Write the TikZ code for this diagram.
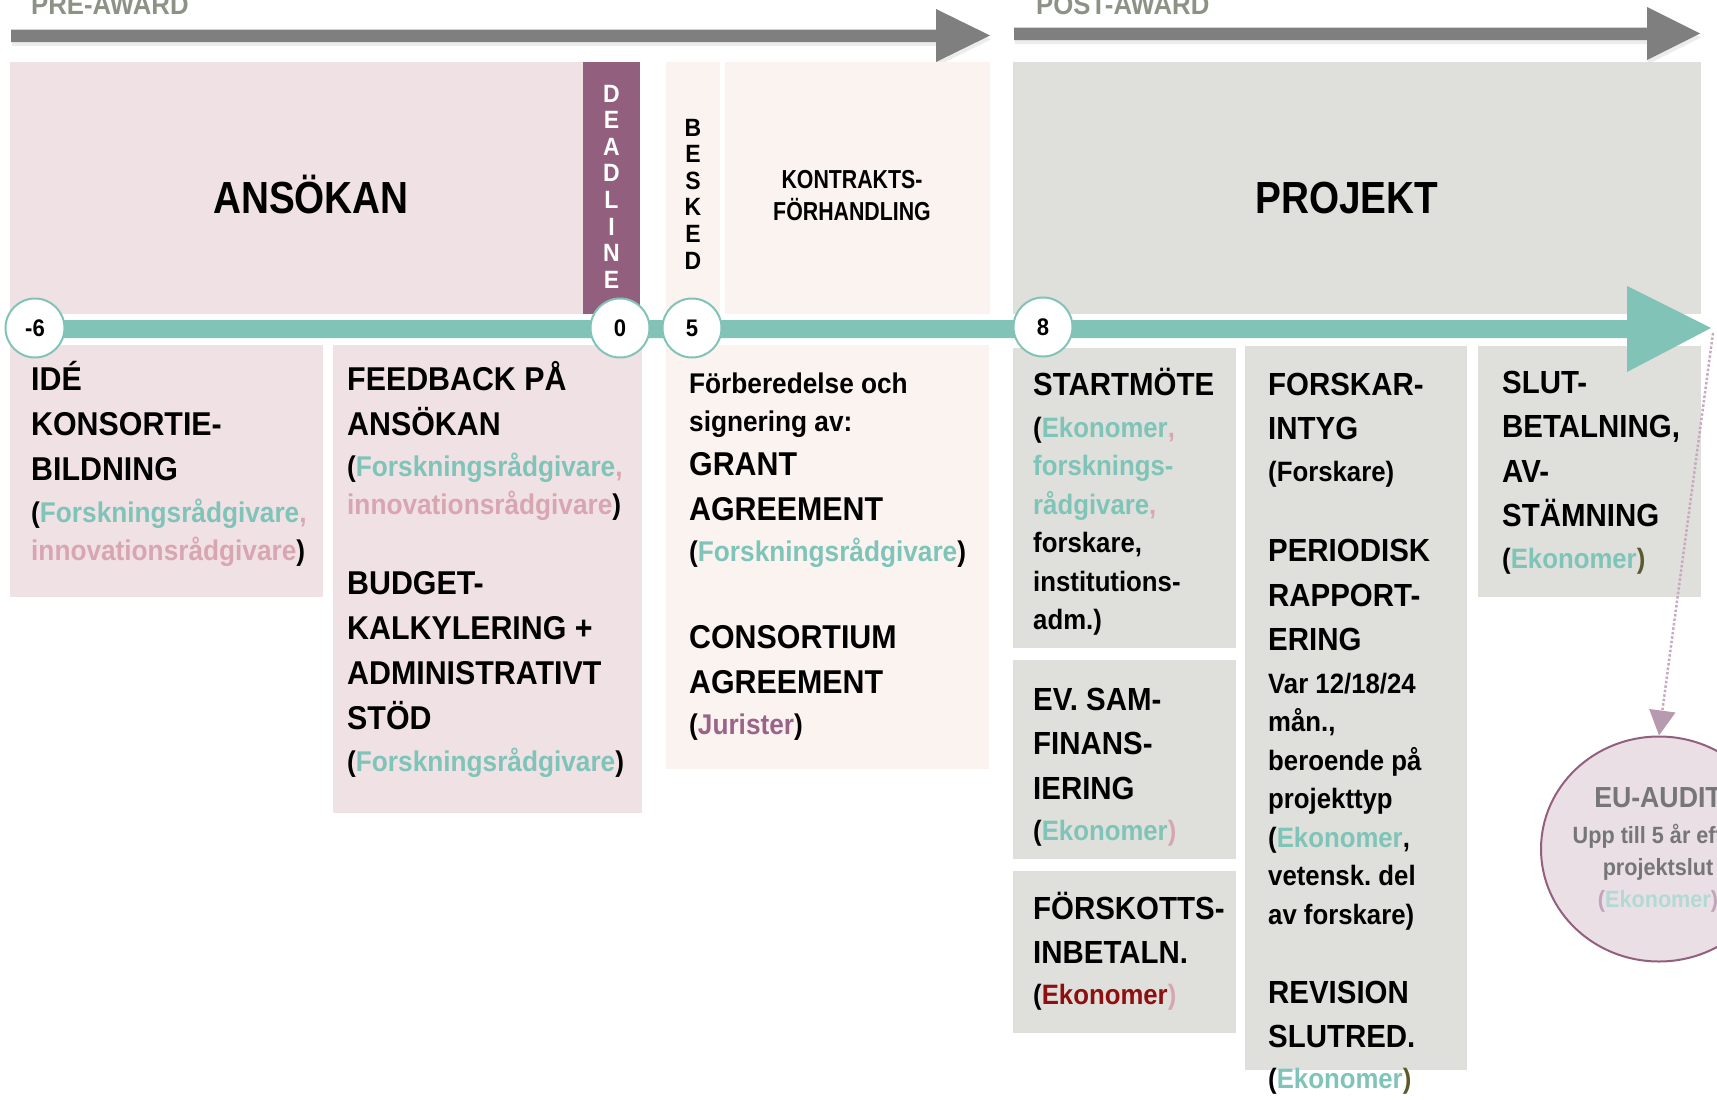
\documentclass[tikz,border=0pt]{standalone}
\usepackage{fontspec}
\setmainfont{Liberation Sans}[FakeStretch=0.92]
\newfontfamily\condA{Liberation Sans}[FakeStretch=0.86]
\newfontfamily\condB{Liberation Sans}[FakeStretch=0.82]
\usetikzlibrary{arrows.meta,shapes.geometric,shadows}

% palette
\definecolor{pinkbox}{HTML}{F0E1E5}
\definecolor{mauve}{HTML}{935F7E}
\definecolor{peach}{HTML}{FBF3F0}
\definecolor{greybox}{HTML}{DFDFDB}
\definecolor{tealbar}{HTML}{82C3B8}
\definecolor{tealtxt}{HTML}{7FC4B8}
\definecolor{rosetxt}{HTML}{D8A6B1}
\definecolor{jurtxt}{HTML}{9A6488}
\definecolor{redtxt}{HTML}{8E0F0F}
\definecolor{olivetxt}{HTML}{5A5A2E}
\definecolor{arrowgrey}{HTML}{7F7F7F}
\definecolor{phasetxt}{HTML}{8C9285}
\definecolor{auditfill}{HTML}{E9DFE5}
\definecolor{audittxt}{HTML}{767676}
\definecolor{auditteal}{HTML}{B2DAD4}
\definecolor{auditpar}{HTML}{C3A3BA}
\definecolor{dotline}{HTML}{C9A9C0}
\definecolor{dothead}{HTML}{B89AB0}

% text helpers
\newcommand\tealt[1]{\textcolor{tealtxt}{#1}}
\newcommand\roset[1]{\textcolor{rosetxt}{#1}}
\newcommand\jurt[1]{\textcolor{jurtxt}{#1}}
\newcommand\redt[1]{\textcolor{redtxt}{#1}}
\newcommand\olivet[1]{\textcolor{olivetxt}{#1}}
% fixed word spacing of the narrowed face
\newcommand\wordgap{\spaceskip=.255em\relax\xspaceskip=\spaceskip}
\newcommand\capsL{\fontsize{33}{45}\selectfont\wordgap}
\newcommand\noteL{\fontsize{28.5}{38.5}\selectfont\wordgap}
\newcommand\capsR{\fontsize{32}{44.5}\selectfont\wordgap}
\newcommand\noteR{\fontsize{28}{38.5}\selectfont\wordgap}

\tikzset{
  bodytext/.style={anchor=base west, inner sep=0pt, text width=400pt, align=left, font=\bfseries},
  tick/.style={circle, draw=tealbar, line width=2pt, fill=white, minimum size=59pt,
    inner sep=0pt, font=\bfseries\fontsize{24}{24}\selectfont},
  phase/.style={anchor=base west, inner sep=0pt, text=phasetxt, font=\bfseries\fontsize{28}{28}\selectfont},
  title/.style={anchor=base, inner sep=0pt, font=\condA\bfseries\fontsize{45}{45}\selectfont},
  stack/.style={anchor=base, inner sep=0pt, text width=40pt, align=center,
    font=\bfseries\fontsize{25}{26.6}\selectfont},
  greyarrow/.style={fill=arrowgrey, drop shadow={shadow xshift=1pt, shadow yshift=-4pt, opacity=0.15}},
  dottedlink/.style={draw=dotline, line width=2.5pt, dash pattern=on 2.5pt off 2pt,
    -{Triangle[width=26pt,length=25pt,color=dothead,fill=dothead]}},
}

\begin{document}
\begin{tikzpicture}[x=1pt,y=-1pt]
\useasboundingbox (0,0) rectangle (1717,1100);

% phase arrows
\node[phase] (pre) at (31,15) {PRE-AWARD};
\node[phase] (post) at (1036,14) {POST-AWARD};
\fill[greyarrow] (11,29.5) -- (936,29.5) -- (936,9) -- (990,35.5) -- (936,62) -- (936,42) -- (11,42) -- cycle;
\fill[greyarrow] (1014,27.5) -- (1647,27.5) -- (1647,7) -- (1700,33.5) -- (1647,60) -- (1647,40) -- (1014,40) -- cycle;

% upper blocks
\fill[pinkbox] (10,62) rectangle (583,314);
\fill[mauve] (583,62) rectangle (640,314);
\fill[peach] (666,62) rectangle (720,314);
\fill[peach] (725,62) rectangle (990,314);
\fill[greybox] (1013,62) rectangle (1701,314);

\node[title] (ansokan) at (311,213) {ANSÖKAN};
\node[title] (projekt) at (1347,213) {PROJEKT};
\node[anchor=base, inner sep=0pt, text width=260pt, align=center,
  font=\condB\bfseries\fontsize{26}{32}\selectfont] (kontrakt) at (852,188) {KONTRAKTS-\\FÖRHANDLING};
\node[stack, text=white] (deadline) at (611.5,102) {D\\E\\A\\D\\L\\I\\N\\E};
\node[stack] (besked) at (693,136) {B\\E\\S\\K\\E\\D};

% lower blocks
\fill[pinkbox] (10,345) rectangle (323,597);
\fill[pinkbox] (333,345) rectangle (642,813);
\fill[peach] (666,345) rectangle (989,769);
\fill[greybox] (1013,348) rectangle (1236,648);
\fill[greybox] (1013,660) rectangle (1236,859);
\fill[greybox] (1013,871) rectangle (1236,1033);
\fill[greybox] (1245,346) rectangle (1467,1070);
\fill[greybox] (1478,346) rectangle (1701,597);

% timeline
\fill[tealbar] (34,320) -- (1627,320) -- (1627,286) -- (1711,328) -- (1627,372) -- (1627,338) -- (34,338) -- cycle;
\coordinate (ttip) at (1713,333);
\node[tick] (m6) at (35,328) {-6};
\node[tick] (m0) at (620,328) {0};
\node[tick] (m5) at (692,328) {5};
\node[tick] (m8) at (1043,327) {8};

% phase texts
\node[bodytext] (ide) at (31,390) {%
  {\capsL IDÉ\\KONSORTIE-\\BILDNING\par}\vspace{3.5pt}%
  {\noteL (\tealt{Forskningsrådgivare}\roset{,}\\\roset{innovationsrådgivare})\par}};

\node[bodytext] (feedback) at (347,390) {%
  {\capsL FEEDBACK PÅ\\ANSÖKAN\par}\vspace{2.5pt}%
  {\noteL (\tealt{Forskningsrådgivare}\roset{,}\\\roset{innovationsrådgivare})\par}\vspace{35pt}%
  {\capsL BUDGET-\\KALKYLERING +\\ADMINISTRATIVT\\STÖD\par}\vspace{3.5pt}%
  {\noteL (\tealt{Forskningsrådgivare})\par}};

\node[bodytext] (avtal) at (689,393) {%
  {\noteL Förberedelse och\\signering av:\par}\vspace{-1.5pt}%
  {\capsL GRANT\\AGREEMENT\par}\vspace{2.5pt}%
  {\noteL (\tealt{Forskningsrådgivare})\par}\vspace{42.5pt}%
  {\capsL CONSORTIUM\\AGREEMENT\par}\vspace{2.5pt}%
  {\noteL (\jurt{Jurister})\par}};

\node[bodytext] (start) at (1033,395) {%
  {\capsR STARTMÖTE\par}\vspace{3.5pt}%
  {\noteR (\tealt{Ekonomer}\roset{,}\\\tealt{forsknings-}\\\tealt{rådgivare}\roset{,}\\forskare,\\institutions-\\adm.)\par}};

\node[bodytext] (samfin) at (1033,710) {%
  {\capsR EV. SAM-\\FINANS-\\IERING\par}\vspace{2.5pt}%
  {\noteR (\tealt{Ekonomer}\roset{)}\par}};

\node[bodytext] (forskott) at (1033,919) {%
  {\capsR FÖRSKOTTS-\\INBETALN.\par}\vspace{2pt}%
  {\noteR (\redt{Ekonomer}\roset{)}\par}};

\node[bodytext] (forskar) at (1268,395) {%
  {\capsR FORSKAR-\\INTYG\par}\vspace{3pt}%
  {\noteR (Forskare)\par}\vspace{36pt}%
  {\capsR PERIODISK\\RAPPORT-\\ERING\par}\vspace{4pt}%
  {\noteR Var 12/18/24\\mån.,\\beroende på\\projekttyp\\(\tealt{Ekonomer},\\vetensk. del\\av forskare)\par}\vspace{34.5pt}%
  {\capsR REVISION\\SLUTRED.\par}\vspace{2.5pt}%
  {\noteR (\tealt{Ekonomer}\olivet{)}\par}};

\node[bodytext] (slut) at (1502,393) {%
  {\capsR SLUT-\\BETALNING,\\AV-\\STÄMNING\par}\vspace{3pt}%
  {\noteR (\tealt{Ekonomer}\olivet{)}\par}};

% audit after project end
\node[ellipse, draw=mauve, line width=2pt, fill=auditfill, minimum width=236pt,
  minimum height=225pt, inner sep=0pt] (audit) at (1659,849) {};
\node[anchor=base, inner sep=0pt, text width=300pt, align=center, text=audittxt,
  font=\bfseries] (audittext) at (1658,807) {%
  {\fontsize{29}{35}\selectfont\wordgap EU-AUDIT\par}\vspace{4pt}%
  {\fontsize{23.5}{32}\selectfont\wordgap Upp till 5 år efter\\projektslut\\\textcolor{auditpar}{(}\textcolor{auditteal}{Ekonomer}\textcolor{auditpar}{)}\par}};
\draw[dottedlink] (ttip) -- (audit.north);
\end{tikzpicture}
\end{document}
